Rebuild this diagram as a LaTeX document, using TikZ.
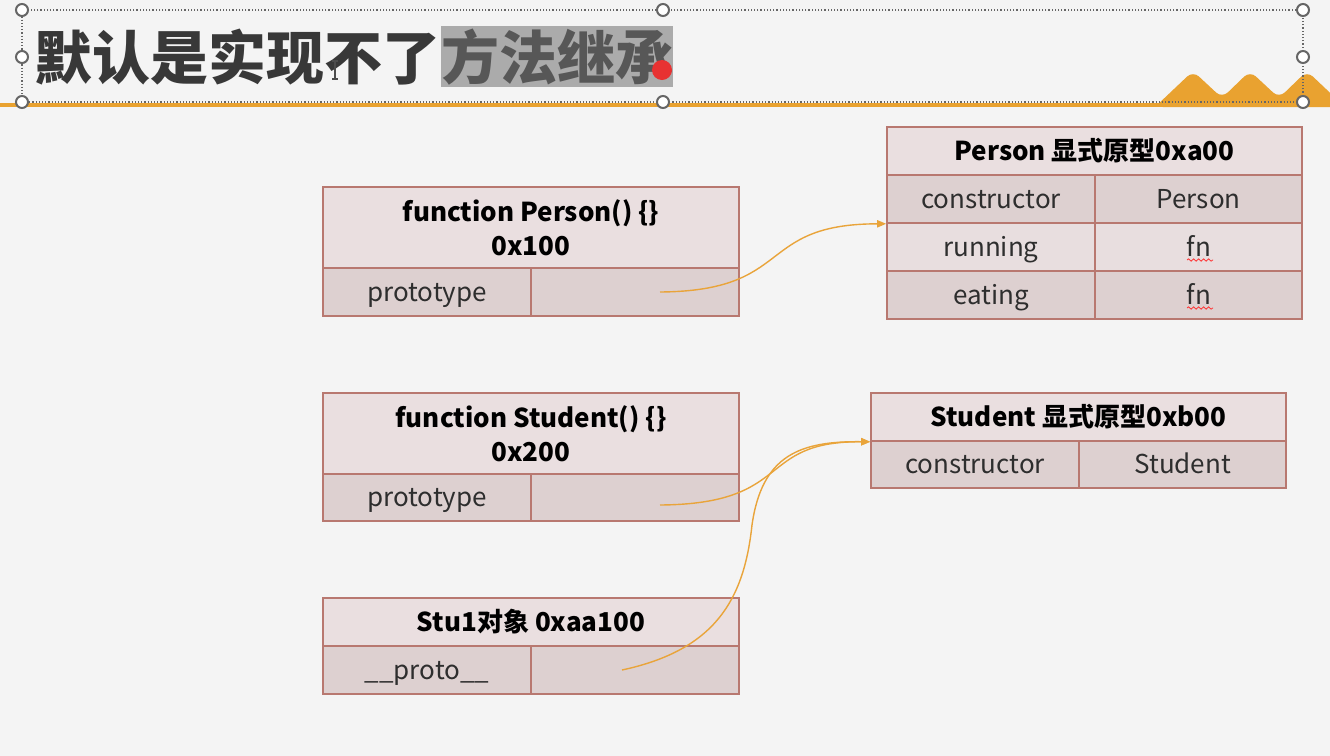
\documentclass[tikz,border=0pt]{standalone}
\usepackage{fontspec}
\setmainfont{Noto Sans CJK SC}
\usetikzlibrary{arrows.meta,decorations.pathmorphing}
\definecolor{bg}{HTML}{F4F4F4}
\definecolor{hdrfill}{HTML}{EADFE0}
\definecolor{rowdark}{HTML}{DDD0D0}
\definecolor{rowlight}{HTML}{E8DEDF}
\definecolor{edge}{HTML}{B87870}
\definecolor{arr}{HTML}{E9A43A}
\definecolor{accent}{HTML}{E9A230}
\definecolor{titletxt}{HTML}{383838}
\definecolor{hl}{HTML}{ABABAB}
\definecolor{hltxt}{HTML}{575757}
\definecolor{dotred}{HTML}{E83232}
\definecolor{handle}{HTML}{666666}
\tikzset{
  cell/.style={draw=edge, line width=0.8pt, inner sep=0pt, font=\fontsize{13}{15}\selectfont, text=black!82},
  hdrcell/.style={cell, fill=hdrfill, font=\bfseries\fontsize{13}{17}\selectfont, align=center, text=black},
  darkcell/.style={cell, fill=rowdark, text height=11pt, text depth=2pt},
  lightcell/.style={cell, fill=rowlight, text height=11pt, text depth=2pt},
  link/.style={draw=arr, line width=0.7pt, -{Triangle[length=4.5pt,width=3.6pt]}},
  grip/.style={circle, draw=handle, fill=white, line width=1pt, minimum size=6pt, inner sep=0pt},
  squiggle/.style={draw=red!80, line width=0.4pt, decorate, decoration={snake, amplitude=0.6pt, segment length=2.5pt}},
}
\begin{document}
\begin{tikzpicture}[x=0.5pt, y=-0.5pt]
\useasboundingbox (0,0) rectangle (1330,756);
\fill[bg] (0,0) rectangle (1330,756);

% title bar decoration
\fill[accent] (0,102.5) rectangle (1330,107);
\fill[accent, rounded corners=4pt] (1155,107) -- (1193,71) -- (1222,98) -- (1250,71) -- (1279,98) -- (1307,71) -- (1345,107) -- cycle;
\fill[hl] (441,26) rectangle (673,87);
\node[anchor=west, inner sep=0pt, text=titletxt, font=\bfseries\fontsize{29}{30}\selectfont] (t1) at (34,57) {默认是实现不了};
\node[anchor=west, inner sep=0pt, text=hltxt, font=\bfseries\fontsize{29}{30}\selectfont] (t2) at (t1.east) {方法继承};
\fill[dotred] (662,70) circle (5pt);
% text cursor
\draw[black!70, line width=0.6pt] (335,61) -- (335,79) (332,61) -- (338,61) (332,79) -- (338,79);
% selection frame
\draw[handle, densely dotted, line width=0.6pt] (22,10) rectangle (1303,102);
\foreach \p in {(22,10),(663,10),(1303,10),(22,57),(1303,57),(22,102),(663,102),(1303,102)}
  \node[grip] at \p {};

% function Person
\node[hdrcell, minimum width=208pt, minimum height=40.5pt] (pf) at (531,227.5) {function Person() \{\}\\0x100};
\node[darkcell, minimum width=104pt, minimum height=24pt] (pfk) at (427,292) {prototype};
\node[darkcell, minimum width=104pt, minimum height=24pt] (pfv) at (635,292) {};

% Person prototype
\node[hdrcell, minimum width=207.5pt, minimum height=24pt] (pp) at (1094.5,151) {Person 显式原型0xa00};
\node[darkcell, minimum width=104pt, minimum height=24pt] (ppc) at (991,199) {constructor};
\node[darkcell, minimum width=103.5pt, minimum height=24pt] (ppcv) at (1198.75,199) {Person};
\node[lightcell, minimum width=104pt, minimum height=24pt] (ppr) at (991,247) {running};
\node[lightcell, minimum width=103.5pt, minimum height=24pt] (pprv) at (1198.75,247) {fn};
\node[darkcell, minimum width=104pt, minimum height=24pt] (ppe) at (991,295) {eating};
\node[darkcell, minimum width=103.5pt, minimum height=24pt] (ppev) at (1198.75,295) {fn};
\draw[squiggle] (1187,260) -- (1213,260);
\draw[squiggle] (1187,308) -- (1213,308);

% function Student
\node[hdrcell, minimum width=208pt, minimum height=40.5pt] (sf) at (531,433.5) {function Student() \{\}\\0x200};
\node[darkcell, minimum width=104pt, minimum height=23.5pt] (sfk) at (427,497.5) {prototype};
\node[darkcell, minimum width=104pt, minimum height=23.5pt] (sfv) at (635,497.5) {};

% Student prototype
\node[hdrcell, minimum width=207.5pt, minimum height=24pt] (sp) at (1078.5,417) {Student 显式原型0xb00};
\node[darkcell, minimum width=104pt, minimum height=23.5pt] (spc) at (975,464.5) {constructor};
\node[darkcell, minimum width=103.5pt, minimum height=23.5pt] (spcv) at (1182.75,464.5) {Student};

% Stu1
\node[hdrcell, minimum width=208pt, minimum height=24pt] (st) at (531,622) {Stu1对象 0xaa100};
\node[darkcell, minimum width=104pt, minimum height=24pt] (stk) at (427,670) {\_\_proto\_\_};
\node[darkcell, minimum width=104pt, minimum height=24pt] (stv) at (635,670) {};

% connectors
\coordinate (a1) at (660,292);
\coordinate (a2) at (660,505);
\coordinate (a3) at (622,670);
\coordinate (a3m) at (752,525);
\draw[link] (a1) .. controls (795,291) and (755,224) .. (ppc.south west);
\draw[link] (a2) .. controls (795,504) and (755,441) .. (sp.south west);
\draw[link] (a3) .. controls (715,650) and (744,600) .. (a3m) .. controls (762,455) and (800,441) .. (sp.south west);
\end{tikzpicture}
\end{document}
